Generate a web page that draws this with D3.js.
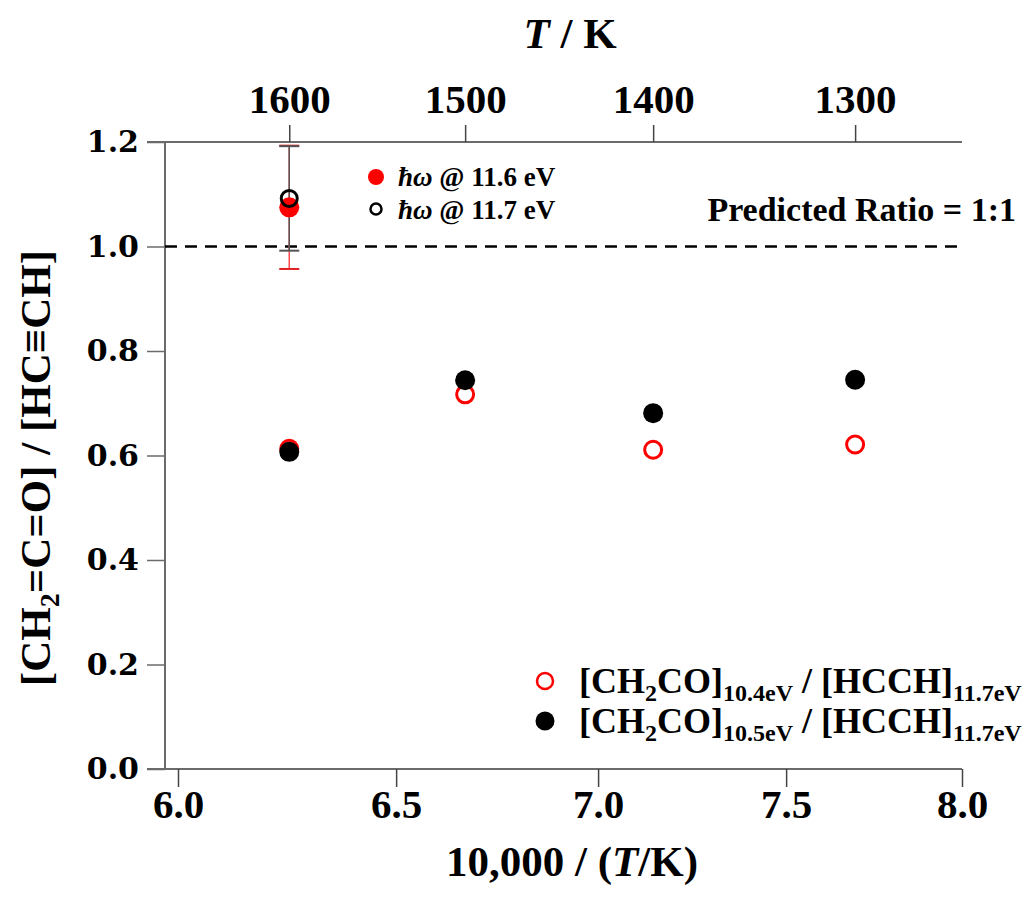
<!DOCTYPE html>
<html>
<head>
<meta charset="utf-8">
<script src="https://cdn.jsdelivr.net/npm/d3@7"></script>
<style>
  body { margin: 0; background: #fff; }
  svg { font-family: "Liberation Serif", serif; }
</style>
</head>
<body>
<svg width="1034" height="906"></svg>
<script>
// values
var temps = [1600, 1500, 1400, 1300];           // T / K
var ratio104 = [0.613, 0.717, 0.611, 0.621];     // [CH2CO]10.4eV / [HCCH]11.7eV
var ratio105 = [0.607, 0.744, 0.681, 0.745];     // [CH2CO]10.5eV / [HCCH]11.7eV
var hw116 = {T: 1600, v: 1.075, err: 0.118};     // ħω @ 11.6 eV
var hw117 = {T: 1600, v: 1.092, err: 0.100};     // ħω @ 11.7 eV
var xTicks = [6.0, 6.5, 7.0, 7.5, 8.0];
var yTicks = [0.0, 0.2, 0.4, 0.6, 0.8, 1.0, 1.2];
var topTicks = [1600, 1500, 1400, 1300];

var svg = d3.select("svg");

var mLeft = 165, mRight = 962, mTop = 142, mBottom = 769;

// bottom axis is logarithmic in 10000/T
var x = d3.scaleLog().domain([6, 8]).range([178, 962]);
var y = d3.scaleLinear().domain([0, 1.2]).range([mBottom, mTop]);
var inv = function(T) { return 10000 / T; };

var axisColor = "#6b6b6b";

// axes lines
svg.append("line").attr("x1", mLeft).attr("x2", mLeft).attr("y1", mTop).attr("y2", mBottom)
  .attr("stroke", axisColor).attr("stroke-width", 2);
svg.append("line").attr("x1", 147).attr("x2", mRight).attr("y1", mBottom).attr("y2", mBottom)
  .attr("stroke", axisColor).attr("stroke-width", 2);
svg.append("line").attr("x1", 147).attr("x2", mRight).attr("y1", mTop).attr("y2", mTop)
  .attr("stroke", axisColor).attr("stroke-width", 2);

// y axis
var yAxis = d3.axisLeft(y).tickValues(yTicks).tickFormat(d3.format(".1f"))
  .tickSize(18).tickPadding(8);
var gy = svg.append("g").attr("transform", "translate(" + mLeft + ",0)").call(yAxis);
gy.select(".domain").remove();
gy.selectAll(".tick line").attr("stroke", axisColor).attr("stroke-width", 1.5);
gy.selectAll(".tick text").attr("fill", "#000")
  .style("font-family", "DejaVu Serif").style("font-weight", "bold").style("font-size", "30px");

// bottom axis
var xAxis = d3.axisBottom(x).tickValues(xTicks).tickFormat(d3.format(".1f"))
  .tickSize(18).tickPadding(2);
var gx = svg.append("g").attr("transform", "translate(0," + mBottom + ")").call(xAxis);
gx.select(".domain").remove();
gx.selectAll(".tick line").attr("stroke", "#444").attr("stroke-width", 1.5);
gx.selectAll(".tick text").attr("fill", "#000")
  .style("font-family", "Liberation Serif").style("font-weight", "bold").style("font-size", "41px");

// top axis in T
var tAxis = d3.axisTop(x).tickValues(topTicks.map(inv))
  .tickFormat(function(d) { return Math.round(10000 / d); })
  .tickSize(17).tickPadding(12);
var gt = svg.append("g").attr("transform", "translate(0," + mTop + ")").call(tAxis);
gt.select(".domain").remove();
gt.selectAll(".tick line").attr("stroke", "#444").attr("stroke-width", 1.5);
gt.selectAll(".tick text").attr("fill", "#000")
  .style("font-family", "Liberation Serif").style("font-weight", "bold").style("font-size", "41px");

// titles
var topTitle = svg.append("text").attr("x", 570).attr("y", 48).attr("text-anchor", "middle")
  .style("font-size", "43px").style("font-weight", "bold");
topTitle.append("tspan").style("font-style", "italic").text("T");
topTitle.append("tspan").text(" / K");

var xTitle = svg.append("text").attr("x", 572).attr("y", 876).attr("text-anchor", "middle")
  .style("font-size", "43px").style("font-weight", "bold");
xTitle.append("tspan").text("10,000 / (");
xTitle.append("tspan").style("font-style", "italic").text("T");
xTitle.append("tspan").text("/K)");

var yTitle = svg.append("text").attr("transform", "translate(50,468) rotate(-90)")
  .attr("text-anchor", "middle").style("font-size", "43px").style("font-weight", "bold");
yTitle.append("tspan").text("[CH");
yTitle.append("tspan").attr("dy", 9).style("font-size", "28px").text("2");
yTitle.append("tspan").attr("dy", -9).text("=C=O] / [HC\u2261CH]");

// predicted ratio line
svg.append("line").attr("x1", mLeft).attr("x2", mRight).attr("y1", y(1)).attr("y2", y(1))
  .attr("stroke", "#000").attr("stroke-width", 2.5).attr("stroke-dasharray", "12,8");
svg.append("text").attr("x", 1016).attr("y", 221).attr("text-anchor", "end")
  .style("font-size", "34px").style("font-weight", "bold").text("Predicted Ratio = 1:1");

// error bars
function errBar(p, color, capColor) {
  var cx = x(inv(p.T));
  svg.append("line").attr("x1", cx).attr("x2", cx)
    .attr("y1", y(p.v + p.err)).attr("y2", y(p.v - p.err))
    .attr("stroke", color).attr("stroke-width", 1.5);
  [p.v + p.err, p.v - p.err].forEach(function(v) {
    svg.append("line").attr("x1", cx - 10).attr("x2", cx + 10)
      .attr("y1", y(v)).attr("y2", y(v))
      .attr("stroke", capColor).attr("stroke-width", 2);
  });
}
errBar(hw116, "#ff4d4d", "#e02020");
errBar(hw117, "#555", "#555");

svg.append("circle").attr("cx", x(inv(hw116.T))).attr("cy", y(hw116.v)).attr("r", 10)
  .attr("fill", "#ff0000");
svg.append("circle").attr("cx", x(inv(hw117.T))).attr("cy", y(hw117.v)).attr("r", 8)
  .attr("fill", "none").attr("stroke", "#000").attr("stroke-width", 3);

// series
var pts104 = temps.map(function(T, i) { return {T: T, v: ratio104[i]}; });
var pts105 = temps.map(function(T, i) { return {T: T, v: ratio105[i]}; });

svg.append("g").selectAll("circle").data(pts104).enter().append("circle")
  .attr("cx", function(d) { return x(inv(d.T)); })
  .attr("cy", function(d) { return y(d.v); })
  .attr("r", 8.5).attr("fill", "none").attr("stroke", "#ff0000").attr("stroke-width", 3);

svg.append("g").selectAll("circle").data(pts105).enter().append("circle")
  .attr("cx", function(d) { return x(inv(d.T)); })
  .attr("cy", function(d) { return y(d.v); })
  .attr("r", 10).attr("fill", "#000");

// top legend
svg.append("circle").attr("cx", 376).attr("cy", 177).attr("r", 8).attr("fill", "#ff0000");
svg.append("circle").attr("cx", 376).attr("cy", 209).attr("r", 5.5).attr("fill", "none")
  .attr("stroke", "#000").attr("stroke-width", 2.5);
[["11.6", 186], ["11.7", 219]].forEach(function(l) {
  var t = svg.append("text").attr("x", 398).attr("y", l[1])
    .style("font-size", "27px").style("font-weight", "bold");
  t.append("tspan").style("font-style", "italic").text("\u0127\u03c9");
  t.append("tspan").text(" @ " + l[0] + " eV");
});

// bottom legend
svg.append("circle").attr("cx", 545).attr("cy", 681).attr("r", 8).attr("fill", "none")
  .attr("stroke", "#ff0000").attr("stroke-width", 2.5);
svg.append("circle").attr("cx", 545).attr("cy", 721).attr("r", 9.5).attr("fill", "#000");
[["10.4eV", 693], ["10.5eV", 733]].forEach(function(l) {
  var t = svg.append("text").attr("x", 579).attr("y", l[1])
    .style("font-size", "36px").style("font-weight", "bold");
  t.append("tspan").text("[CH");
  t.append("tspan").attr("dy", 8).style("font-size", "24px").text("2");
  t.append("tspan").attr("dy", -8).text("CO]");
  t.append("tspan").attr("dy", 8).style("font-size", "24px").text(l[0]);
  t.append("tspan").attr("dy", -8).text(" / [HCCH]");
  t.append("tspan").attr("dy", 8).style("font-size", "24px").text("11.7eV");
});
</script>
</body>
</html>
